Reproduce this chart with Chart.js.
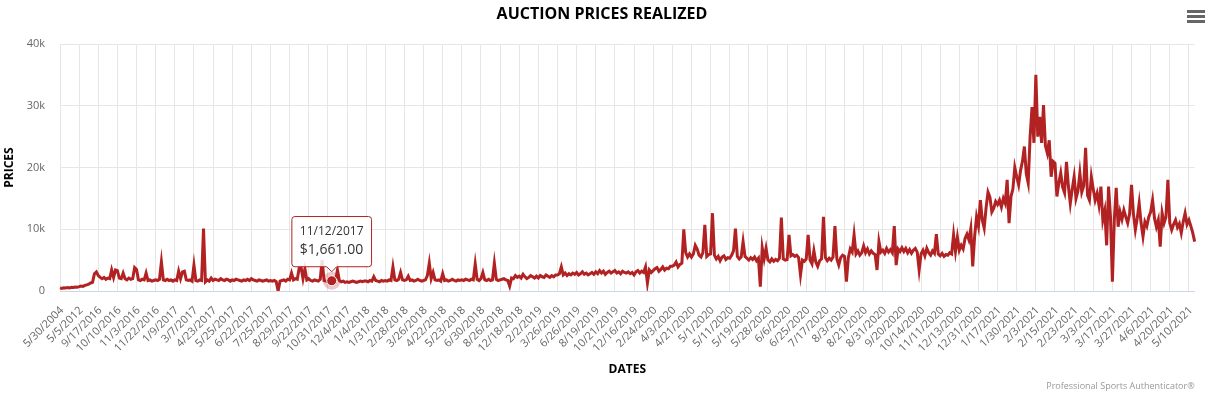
<!DOCTYPE html>
<html>
<head>
<meta charset="utf-8">
<title>Auction Prices Realized</title>
<script src="https://cdn.jsdelivr.net/npm/chart.js@4.4.1/dist/chart.umd.min.js"></script>
<style>
  html, body { margin: 0; padding: 0; background: #fff; }
</style>
</head>
<body>
<canvas id="chart" width="1217" height="398"></canvas>
<script>
// dates shown on the x axis, one every `pointsPerTick` sales
const tickLabels = [
  '5/30/2004', '5/5/2012', '9/17/2016', '10/10/2016', '11/3/2016', '11/22/2016',
  '1/9/2017', '3/7/2017', '4/23/2017', '5/25/2017', '6/22/2017', '7/25/2017',
  '8/29/2017', '9/22/2017', '10/31/2017', '12/4/2017', '1/4/2018', '1/31/2018',
  '2/28/2018', '3/26/2018', '4/22/2018', '5/23/2018', '6/30/2018', '8/26/2018',
  '12/18/2018', '2/2/2019', '3/26/2019', '6/26/2019', '8/19/2019', '10/21/2019',
  '12/16/2019', '2/24/2020', '4/3/2020', '4/21/2020', '5/1/2020', '5/11/2020',
  '5/19/2020', '5/28/2020', '6/6/2020', '6/25/2020', '7/17/2020', '8/3/2020',
  '8/21/2020', '8/31/2020', '9/20/2020', '10/14/2020', '11/11/2020', '12/13/2020',
  '12/31/2020', '1/17/2021', '1/30/2021', '2/3/2021', '2/15/2021', '2/23/2021',
  '3/3/2021', '3/17/2021', '3/27/2021', '4/6/2021', '4/20/2021', '5/10/2021'
];
const pointsPerTick = 10;

// realized prices (USD), one row per tick interval
const prices = [
  500, 420, 520, 480, 560, 500, 600, 560, 650, 620,
  700, 800, 750, 900, 1000, 1100, 1300, 1400, 2800, 3100,
  2500, 2200, 2000, 2200, 1900, 2100, 2000, 3400, 2200, 3400,
  3300, 2100, 2000, 2900, 2000, 1800, 2100, 1900, 2000, 3800,
  3500, 1800, 1700, 1900, 1800, 2900, 1700, 1800, 1600, 1700,
  1800, 1700, 1900, 4700, 1800, 1700, 1900, 1700, 1800, 1600,
  1800, 1700, 3200, 2000, 3100, 3200, 1800, 1700, 1800, 1600,
  4200, 1700, 1600, 1800, 1700, 10100, 1500, 1800, 1600, 2100,
  1700, 1900, 1800, 1700, 2000, 1800, 1700, 1900, 1800, 1600,
  1800, 1700, 1900, 1800, 1700, 1600, 1800, 1700, 1900, 1700,
  2000, 1800, 1700, 1600, 1800, 1700, 1600, 1700, 1800, 1600,
  1700, 1600, 1700, 1500, 0, 1600, 1700, 1800, 1600, 1900,
  1800, 2900, 1800, 2000, 1900, 3700, 3800, 2000, 3600, 1800,
  2000, 1700, 1600, 1800, 1700, 1600, 1900, 5000, 1700, 1600,
  1500, 1700, 1661, 1800, 1600, 3400, 1700, 1500, 1600, 1400,
  1500, 1400, 1500, 1600, 1500, 1400, 1500, 1600, 1500, 1600,
  1600, 1500, 1700, 1600, 2300, 1700, 1600, 1500, 1700, 1600,
  1700, 1600, 1800, 1700, 3900, 1800, 1700, 1900, 3000, 1800,
  1700, 1800, 2400, 1700, 1800, 1600, 1700, 1900, 1700, 1600,
  1700, 1800, 2500, 4500, 2000, 3000, 1800, 1700, 1800, 1600,
  2800, 1700, 1800, 1600, 1700, 1900, 1700, 1600, 1800, 1700,
  1800, 1700, 1900, 1800, 1700, 1900, 1800, 4400, 1900, 1700,
  2000, 3000, 1800, 1700, 1900, 1700, 1800, 4500, 1900, 1700,
  1800, 1900, 2000, 1800, 1700, 800, 2100, 2000, 2500, 2200,
  2400, 2100, 2700, 2300, 2000, 2200, 2500, 2300, 2100, 2400,
  2100, 2500, 2300, 2200, 2600, 2400, 2200, 2500, 2300, 2600,
  2600, 2800, 3900, 2600, 2900, 2500, 2800, 2600, 2900, 2700,
  3000, 2600, 2800, 3100, 2700, 2900, 2600, 2800, 3000, 2700,
  3100, 2800, 3300, 2900, 3200, 2700, 3000, 3200, 2900, 3100,
  3300, 2900, 3100, 2800, 3200, 3000, 2900, 3100, 2800, 3000,
  2600, 3100, 3300, 2900, 3200, 3000, 3900, 1300, 3400, 3000,
  3300, 3600, 3800, 3200, 3500, 3900, 3400, 3700, 3600, 4000,
  4000, 4200, 4700, 3900, 4300, 4500, 10000, 6200, 5500, 6000,
  5500, 6000, 7400, 6800, 5800, 5500, 6200, 10700, 5600, 5900,
  6000, 12600, 5800, 5200, 5600, 4900, 5500, 5700, 5100, 5400,
  5300, 5800, 6500, 10100, 5600, 5200, 5500, 8000, 5600, 5300,
  5000, 5400, 5100, 5500, 4900, 5300, 700, 7000, 5200, 6900,
  5000, 4700, 5200, 4800, 5100, 4900, 5300, 11900, 5200, 5000,
  5100, 9100, 5700, 5900, 5600, 5800, 5400, 2600, 5000, 4800,
  5200, 9100, 5000, 4400, 6500, 4700, 4000, 4900, 5200, 12000,
  5400, 4900, 5300, 5000, 5500, 10500, 5200, 4200, 5400, 5800,
  5600, 1500, 5400, 6800, 6300, 9100, 6000, 6500, 5800, 6200,
  7300, 6200, 6800, 6000, 6500, 6100, 5900, 3400, 8000, 6300,
  6600, 6100, 6900, 6300, 6700, 6200, 10500, 4200, 6800, 6400,
  7000, 6400, 6900, 6200, 6700, 6100, 6600, 6900, 6300, 3400,
  6000, 6600, 5700, 6900, 6200, 5800, 6500, 6100, 9200, 6000,
  5700, 6100, 5600, 5900, 5800, 6200, 6000, 9100, 6400, 8700,
  6600, 7400, 6800, 8500, 9200, 8300, 10100, 4000, 8800, 12000,
  10500, 14700, 11500, 10200, 13500, 16000, 15200, 12800, 13400, 14500,
  14000, 14700, 13600, 15000, 14200, 18000, 11000, 15300, 16500, 20000,
  18500, 17200, 19500, 21000, 23400, 19000, 17500, 25000, 29800, 24000,
  35000, 25000, 28200, 24000, 30100, 23500, 22300, 24400, 18500, 21000,
  20700, 15300, 17500, 19100, 16800, 15900, 20900, 17000, 14200, 16500,
  18500, 15000, 16200, 19100, 16000, 17000, 23200, 15500, 14700, 18500,
  16500, 14700, 15800, 13900, 16900, 11500, 13000, 7400, 16900, 12000,
  1500, 11500, 16700, 10400, 12800, 11600, 13100, 12000, 11000, 12500,
  17200, 12500, 9900, 11800, 14200, 11000, 8800, 11200, 10500, 12000,
  12800, 14700, 11800, 10400, 11500, 7200, 12600, 11000, 12000, 18000,
  11000, 9900, 10800, 11500, 10300, 10900, 9400, 11200, 12600, 10800,
  11500, 10500, 9400, 8000
];

const yTickLabels = ['0', '10k', '20k', '30k', '40k'];

// the sale shown in the tooltip
const hoverIndex = 142;
const hoverDate = '11/12/2017';

const labels = prices.map((_, i) => (i % pointsPerTick === 0 ? tickLabels[i / pointsPerTick] : ''));
labels[hoverIndex] = hoverDate;

const RED = '#B22222';
Chart.defaults.font.family = '"Open Sans", sans-serif';

// title, axis titles, credits, menu icon and the hover halo
const decorPlugin = {
  id: 'decor',
  beforeDatasetsDraw(chart) {
    const ctx = chart.ctx;
    chart.getActiveElements().forEach(({ element }) => {
      ctx.save();
      ctx.fillStyle = 'rgba(178, 34, 34, 0.25)';
      ctx.beginPath();
      ctx.arc(element.x, element.y, 9, 0, Math.PI * 2);
      ctx.fill();
      ctx.restore();
    });
  },
  afterDraw(chart) {
    const { ctx, chartArea } = chart;
    ctx.save();
    ctx.fillStyle = '#000';
    ctx.textBaseline = 'middle';
    ctx.textAlign = 'center';
    ctx.font = 'bold 16px "Open Sans", sans-serif';
    ctx.fillText('AUCTION PRICES REALIZED', 602, 14);

    ctx.font = 'bold 12px "Open Sans", sans-serif';
    ctx.fillText('DATES', (chartArea.left + chartArea.right) / 2, 370);
    ctx.save();
    ctx.translate(10, (chartArea.top + chartArea.bottom) / 2);
    ctx.rotate(-Math.PI / 2);
    ctx.fillText('PRICES', 0, 0);
    ctx.restore();

    ctx.fillStyle = '#999';
    ctx.textAlign = 'right';
    ctx.font = '9px "Open Sans", sans-serif';
    ctx.fillText('Professional Sports Authenticator\u00AE', chartArea.right, 386);

    ctx.fillStyle = '#666';
    [10, 15, 20].forEach(y => ctx.fillRect(1187, y, 18, 3));
    ctx.restore();
  }
};

const chart = new Chart(document.getElementById('chart'), {
  type: 'line',
  data: {
    labels,
    datasets: [{
      label: 'Price',
      data: prices,
      borderColor: RED,
      backgroundColor: RED,
      borderWidth: 3,
      tension: 0,
      pointRadius: 0,
      pointHoverRadius: 5,
      pointHoverBackgroundColor: RED,
      pointHoverBorderColor: '#fff',
      pointHoverBorderWidth: 1
    }]
  },
  options: {
    responsive: false,
    animation: false,
    layout: { padding: { top: 44, right: 10, left: 0, bottom: 0 } },
    interaction: { mode: 'nearest', intersect: false },
    scales: {
      x: {
        type: 'category',
        afterFit: (scale) => { scale.height = 107; },
        grid: {
          color: (c) => (c.index % pointsPerTick === 0 ? '#e6e6e6' : 'rgba(0,0,0,0)'),
          drawTicks: false
        },
        border: { color: '#ccd6eb' },
        ticks: {
          autoSkip: false,
          maxRotation: 45,
          minRotation: 45,
          padding: 13,
          labelOffset: 2,
          color: '#666',
          font: { size: 11 },
          callback: (v, i) => (i % pointsPerTick === 0 ? tickLabels[i / pointsPerTick] : '')
        }
      },
      y: {
        min: 0,
        max: 40000,
        afterFit: (scale) => { scale.width = 60; },
        grid: { color: '#e6e6e6', drawTicks: false },
        border: { display: false },
        ticks: {
          stepSize: 10000,
          padding: 15,
          color: '#666',
          font: { size: 11 },
          callback: (v, i) => yTickLabels[i]
        }
      }
    },
    plugins: {
      legend: { display: false },
      title: { display: false },
      tooltip: {
        backgroundColor: 'rgba(255, 255, 255, 0.85)',
        borderColor: RED,
        borderWidth: 1,
        cornerRadius: 3,
        titleColor: '#333',
        bodyColor: '#333',
        titleFont: { size: 12, weight: 'normal' },
        bodyFont: { size: 14 },
        titleMarginBottom: 3,
        padding: 8,
        caretSize: 5,
        caretPadding: 9,
        displayColors: false,
        yAlign: 'bottom',
        xAlign: 'center',
        callbacks: {
          title: (items) => labels[items[0].dataIndex],
          label: (item) => '$' + item.parsed.y.toLocaleString('en-US', { minimumFractionDigits: 2, maximumFractionDigits: 2 })
        }
      }
    }
  },
  plugins: [decorPlugin]
});

const active = [{ datasetIndex: 0, index: hoverIndex }];
const pt = chart.getDatasetMeta(0).data[hoverIndex];
chart.setActiveElements(active);
chart.tooltip.setActiveElements(active, { x: pt.x, y: pt.y });
chart.update();
</script>
</body>
</html>
